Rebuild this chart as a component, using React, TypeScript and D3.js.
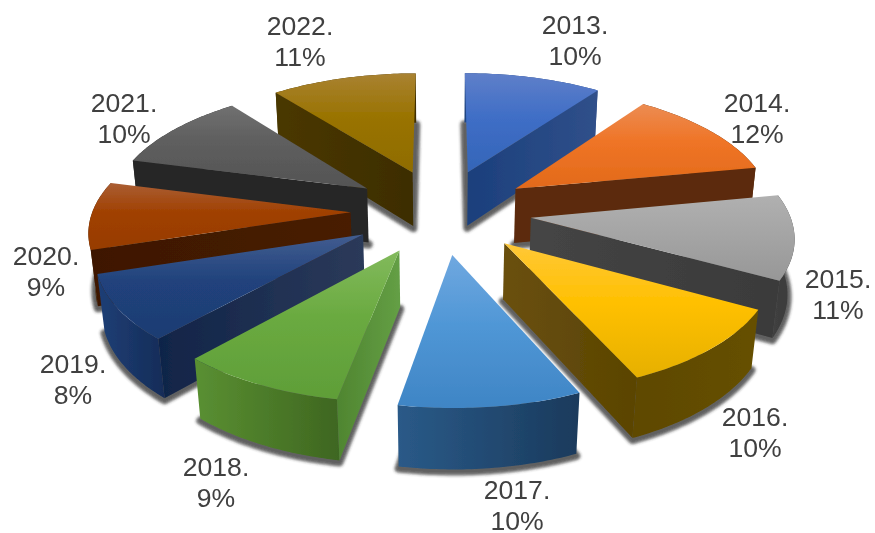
import React from "react";
import * as d3 from "d3";

// ---- data (shares; the labels show them rounded)
const years = ["2013", "2014", "2015", "2016", "2017", "2018", "2019", "2020", "2021", "2022"];
const shares = [10, 12, 11, 10.3, 9.6, 8.8, 8.45, 8.85, 10.4, 10.6];

// ---- colours: top face (top, mid, bottom), side wall (left, right), outer wall (left, right)
const topColors = [
  ["#5f7fc9", "#3f6ec6", "#3465b8"],
  ["#ec8c52", "#ef7426", "#e26a1a"],
  ["#b0b0b0", "#a5a5a5", "#979797"],
  ["#ffc838", "#ffc000", "#e6b000"],
  ["#70a8e0", "#5097d6", "#3f85c5"],
  ["#82ba5c", "#6aaa40", "#5f9e38"],
  ["#425d90", "#20427c", "#1e3c72"],
  ["#aa5e34", "#a04000", "#973c00"],
  ["#707070", "#5e5e5e", "#545454"],
  ["#a98232", "#997300", "#8f6c00"],
];
const sideColors = [
  ["#1b3f7c", "#30508a"],
  ["#5c2a0a", "#5c2a0a"],
  ["#454545", "#3a3a3a"],
  ["#6a5010", "#5a4400"],
  ["#2a5a88", "#2a5a88"],
  ["#4f8530", "#649f45"],
  ["#102448", "#2c3a5a"],
  ["#3e1800", "#481c00"],
  ["#262626", "#262626"],
  ["#4a3806", "#3d2d00"],
];
const outerColors = [
  ["#1f4480", "#30508a"],
  ["#5c2a0a", "#4e2408"],
  ["#404040", "#3a3a3a"],
  ["#5e4800", "#665000"],
  ["#2a5a88", "#1a3a5c"],
  ["#5a9032", "#3e6620"],
  ["#1f3f76", "#142c58"],
  ["#3e1800", "#3e1800"],
  ["#262626", "#262626"],
  ["#3f2f00", "#3f2f00"],
];
const labelPos: [number, number][] = [
  [575, 34], [757, 112], [838, 288], [755, 426], [517, 499],
  [216, 476], [73, 373], [46, 265], [124, 112], [300, 35],
];

// ---- 3D projection
const cx = 441, cy = 211, kx = 258, ky = 121, persp = 0.128, depth = 56, explode = 0.35;
type P = [number, number];
function project(X: number, Y: number, z: number): P {
  const s = 1 / (1 - persp * Y + 0.02 * z);
  return [cx + kx * X * s, cy + ky * Y * s + depth * z * s];
}

const pieGen = d3.pie<number>().sort(null).startAngle(0).endAngle(2 * Math.PI);
const arcs = pieGen(shares);
const lineGen = d3.line<P>().x((d) => d[0]).y((d) => d[1]);

function buildSlice(a: d3.PieArcDatum<number>) {
  const mid = (a.startAngle + a.endAngle) / 2;
  const ox = explode * Math.sin(mid);
  const oy = -explode * Math.cos(mid);
  const angles = d3.range(0, 41).map((i) => a.startAngle + ((a.endAngle - a.startAngle) * i) / 40);
  const arcAt = (z: number): P[] => angles.map((t) => project(ox + Math.sin(t), oy - Math.cos(t), z));
  const apex = (z: number): P => project(ox, oy, z);
  const top = arcAt(0);
  const bot = arcAt(1);
  const path = (pts: P[]) => (lineGen(pts) as string) + "Z";
  return {
    sortKey: oy,
    topPath: path([apex(0), ...top]),
    botPath: path([apex(1), ...bot]),
    outerPath: path([...top, ...[...bot].reverse()]),
    startWall: path([apex(0), top[0], bot[0], apex(1)]),
    endWall: path([apex(0), top[40], bot[40], apex(1)]),
  };
}

const slices = arcs.map((a, i) => ({ ...buildSlice(a), i, a }));
const order = [...slices].sort((p, q) => p.sortKey - q.sortKey);

function Stops({ c }: { c: string[] }) {
  return (
    <>
      {c.map((col, j) => (
        <stop key={j} offset={c.length === 3 ? [0, 0.45, 1][j] : j} stopColor={col} />
      ))}
    </>
  );
}

export default function App() {
  return (
    <svg width={875} height={533} style={{ position: "absolute", left: 0, top: 0, background: "#fff" }}>
      <defs>
        <filter id="sh" x="-30%" y="-30%" width="160%" height="160%">
          <feGaussianBlur stdDeviation="1.8" />
        </filter>
        <filter id="soft" x="0" y="0" width="100%" height="100%">
          <feGaussianBlur stdDeviation="0.4" />
        </filter>
        {years.map((_, i) => (
          <React.Fragment key={i}>
            <linearGradient id={`t${i}`} x1="0" y1="0" x2="0" y2="1">
              <Stops c={topColors[i]} />
            </linearGradient>
            <linearGradient id={`s${i}`} x1="0" y1="0" x2="1" y2="0">
              <Stops c={sideColors[i]} />
            </linearGradient>
            <linearGradient id={`o${i}`} x1="0" y1="0" x2="1" y2="0">
              <Stops c={outerColors[i]} />
            </linearGradient>
          </React.Fragment>
        ))}
      </defs>
      <g filter="url(#soft)">
        {order.map((s) => {
          const i = s.i;
          // walls that face the viewer: the trailing edge on the right half, the leading edge on the left half
          const endVisible = s.a.endAngle <= Math.PI;
          const startVisible = s.a.startAngle >= Math.PI;
          return (
            <g key={i}>
              <path
                d={s.botPath}
                transform="translate(0,2)"
                fill="#282828"
                stroke="#282828"
                strokeWidth={8}
                strokeLinejoin="round"
                opacity={0.72}
                filter="url(#sh)"
              />
              <path d={s.outerPath} fill={`url(#o${i})`} />
              {endVisible && <path d={s.endWall} fill={`url(#s${i})`} />}
              {startVisible && <path d={s.startWall} fill={`url(#s${i})`} />}
              <path d={s.topPath} fill={`url(#t${i})`} />
            </g>
          );
        })}
        {years.map((y, i) => (
          <text
            key={y}
            x={labelPos[i][0]}
            y={labelPos[i][1]}
            textAnchor="middle"
            fontFamily="'Liberation Sans', Arial, sans-serif"
            fontSize={26.6}
            fill="#404040"
          >
            <tspan x={labelPos[i][0]}>{y}.</tspan>
            <tspan x={labelPos[i][0]} dy={31}>
              {Math.round(shares[i])}%
            </tspan>
          </text>
        ))}
      </g>
    </svg>
  );
}
